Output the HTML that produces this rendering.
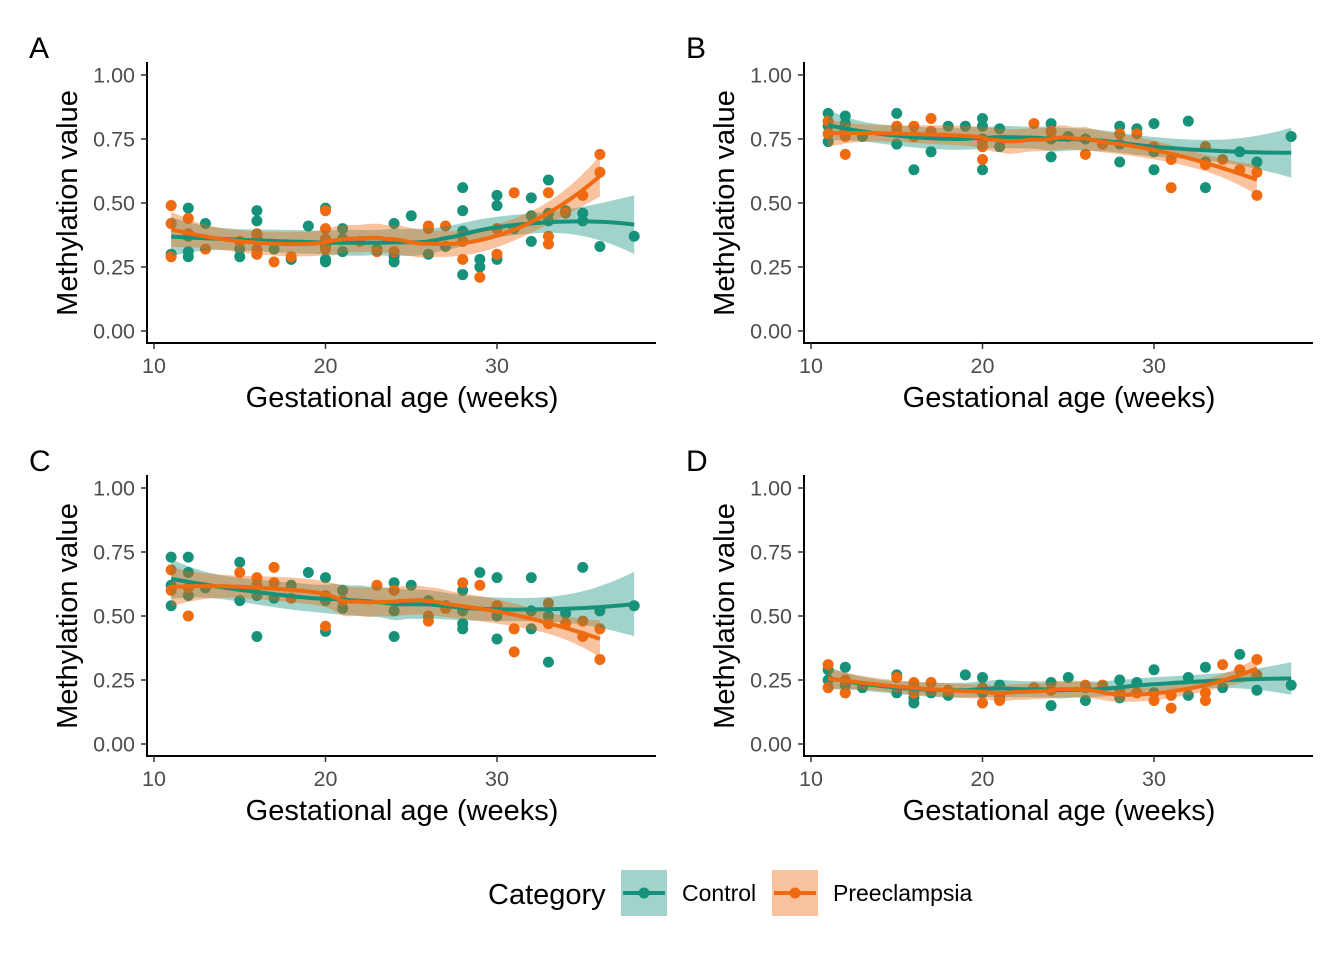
<!DOCTYPE html>
<html><head><meta charset="utf-8">
<style>
html,body{margin:0;padding:0;background:#fff;}
svg{display:block;font-family:"Liberation Sans",Arial,sans-serif;}
</style></head>
<body>
<svg id="chart" width="1344" height="960" viewBox="0 0 1344 960"></svg>
<script>
// ---- data (weeks, methylation) ----
const panelLabels = ["A","B","C","D"];
const yTicks = [0, 0.25, 0.5, 0.75, 1.0];
const yTickLabels = ["0.00","0.25","0.50","0.75","1.00"];
const xTicks = [10, 20, 30];
const ctrlA_x = [11,11,12,12,12,12,13,15,15,16,16,16,16,17,18,19,20,20,20,20,21,21,21,23,24,24,24,25,26,27,28,28,28,28,29,29,30,30,30,31,32,32,32,33,33,33,34,35,35,36,38];
const ctrlA_y = [0.42,0.30,0.48,0.29,0.31,0.37,0.42,0.29,0.32,0.47,0.43,0.30,0.36,0.32,0.28,0.41,0.48,0.27,0.28,0.33,0.40,0.36,0.31,0.32,0.42,0.27,0.29,0.45,0.30,0.33,0.56,0.47,0.39,0.22,0.28,0.25,0.53,0.49,0.28,0.40,0.52,0.35,0.45,0.59,0.43,0.46,0.47,0.46,0.43,0.33,0.37];
const peA_x = [11,11,11,12,12,13,15,16,16,16,17,18,20,20,20,20,22,23,24,26,26,27,28,28,29,30,30,31,33,33,33,34,35,36,36];
const peA_y = [0.49,0.42,0.29,0.44,0.38,0.32,0.35,0.38,0.32,0.30,0.27,0.29,0.47,0.40,0.36,0.32,0.35,0.31,0.31,0.41,0.40,0.41,0.28,0.35,0.21,0.30,0.40,0.54,0.54,0.37,0.34,0.46,0.53,0.69,0.62];
const ctrlB_x = [11,11,11,12,12,12,13,15,15,16,16,17,18,19,20,20,20,20,21,21,24,24,24,25,26,27,28,28,28,29,30,30,30,32,33,33,35,36,38];
const ctrlB_y = [0.85,0.80,0.74,0.84,0.81,0.78,0.76,0.85,0.73,0.76,0.63,0.70,0.80,0.80,0.83,0.80,0.63,0.75,0.79,0.72,0.81,0.68,0.75,0.76,0.75,0.73,0.80,0.66,0.73,0.79,0.81,0.63,0.70,0.82,0.56,0.66,0.70,0.66,0.76];
const peB_x = [11,11,12,12,12,15,15,16,16,17,17,20,20,20,23,24,26,27,28,29,30,31,31,33,33,34,35,36,36];
const peB_y = [0.82,0.77,0.78,0.69,0.76,0.80,0.78,0.80,0.76,0.83,0.78,0.72,0.67,0.74,0.81,0.78,0.69,0.73,0.77,0.77,0.72,0.67,0.56,0.72,0.65,0.67,0.63,0.62,0.53];
const ctrlC_x = [11,11,11,12,12,12,13,15,15,16,16,16,17,18,19,20,20,20,21,21,24,24,24,25,26,27,28,28,28,28,29,30,30,30,32,32,32,33,33,34,35,36,38];
const ctrlC_y = [0.73,0.54,0.62,0.73,0.67,0.58,0.61,0.71,0.56,0.62,0.42,0.58,0.57,0.62,0.67,0.65,0.44,0.56,0.53,0.60,0.63,0.42,0.52,0.62,0.56,0.54,0.60,0.47,0.45,0.52,0.67,0.65,0.50,0.41,0.65,0.45,0.52,0.32,0.50,0.51,0.69,0.52,0.54];
const peC_x = [11,11,12,12,15,16,16,17,17,18,20,20,21,23,24,26,26,27,28,29,30,31,31,33,33,34,35,35,36,36];
const peC_y = [0.68,0.60,0.61,0.50,0.67,0.65,0.62,0.69,0.63,0.57,0.46,0.58,0.56,0.62,0.60,0.48,0.50,0.53,0.63,0.62,0.54,0.45,0.36,0.55,0.47,0.47,0.48,0.42,0.33,0.45];
const ctrlD_x = [11,11,12,12,12,13,15,15,16,16,16,17,18,19,20,20,21,21,24,24,25,26,26,28,28,29,30,30,32,32,33,34,35,36,38];
const ctrlD_y = [0.29,0.25,0.30,0.23,0.20,0.22,0.27,0.20,0.16,0.18,0.22,0.20,0.19,0.27,0.26,0.20,0.23,0.18,0.24,0.15,0.26,0.17,0.22,0.25,0.18,0.24,0.29,0.20,0.26,0.19,0.30,0.22,0.35,0.21,0.23];
const peD_x = [11,11,12,12,15,16,16,17,18,20,20,21,23,24,26,27,28,29,30,31,31,33,33,34,35,36,36];
const peD_y = [0.31,0.22,0.25,0.20,0.26,0.24,0.20,0.24,0.21,0.22,0.16,0.17,0.22,0.21,0.23,0.23,0.21,0.20,0.17,0.19,0.14,0.20,0.17,0.31,0.29,0.33,0.27];

const GREEN = "#17927a", ORANGE = "#f06a10";
const NS = "http://www.w3.org/2000/svg";
const svg = document.getElementById("chart");
function mk(tag, attrs, parent){ const e=document.createElementNS(NS,tag); for(const k in attrs) e.setAttribute(k,attrs[k]); (parent||svg).appendChild(e); return e; }

function solve3(A,b){
  const M=A.map((r,i)=>[...r,b[i]]);
  for(let i=0;i<3;i++){ let p=i; for(let j=i+1;j<3;j++) if(Math.abs(M[j][i])>Math.abs(M[p][i])) p=j; [M[i],M[p]]=[M[p],M[i]];
    for(let j=i+1;j<3;j++){ const f=M[j][i]/M[i][i]; for(let k=i;k<4;k++) M[j][k]-=f*M[i][k]; } }
  const x=[0,0,0]; for(let i=2;i>=0;i--){ let s=M[i][3]; for(let k=i+1;k<3;k++) s-=M[i][k]*x[k]; x[i]=s/M[i][i]; } return x;
}
function lvec(xs,x0){
  const n=xs.length, q=Math.floor(0.75*n);
  const d=xs.map(x=>Math.abs(x-x0)); const h=[...d].sort((a,b)=>a-b)[q-1]*1.0001+1e-9;
  const w=d.map(v=>{const u=v/h; return u<1?Math.pow(1-u*u*u,3):0;});
  const A=[[0,0,0],[0,0,0],[0,0,0]];
  for(let i=0;i<n;i++){const t=xs[i]-x0, r=[1,t,t*t]; for(let a=0;a<3;a++) for(let b=0;b<3;b++) A[a][b]+=w[i]*r[a]*r[b];}
  const c=solve3(A.map(r=>r.slice()),[1,0,0]);
  return xs.map((x,i)=>{const t=x-x0; return w[i]*(c[0]+c[1]*t+c[2]*t*t);});
}
function loess(xs,ys){
  const n=xs.length; let rss=0, tr=0;
  xs.forEach((x,i)=>{const l=lvec(xs,x); let f=0; l.forEach((v,j)=>f+=v*ys[j]); rss+=(ys[i]-f)**2; tr+=l[i];});
  const sigma=Math.sqrt(rss/(n-tr*1.2));
  const lo=Math.min(...xs), hi=Math.max(...xs), out=[];
  for(let k=0;k<=80;k++){ const x0=lo+(hi-lo)*k/80; const l=lvec(xs,x0);
    let f=0,s=0; l.forEach((v,j)=>{f+=v*ys[j]; s+=v*v;}); out.push({x:x0,y:f,se:sigma*Math.sqrt(s)*2.03}); }
  return out;
}

const panels = [
  {lab:"A",dx:0,dy:0,c:[ctrlA_x,ctrlA_y],p:[peA_x,peA_y]},
  {lab:"B",dx:657,dy:0,c:[ctrlB_x,ctrlB_y],p:[peB_x,peB_y]},
  {lab:"C",dx:0,dy:413,c:[ctrlC_x,ctrlC_y],p:[peC_x,peC_y]},
  {lab:"D",dx:657,dy:413,c:[ctrlD_x,ctrlD_y],p:[peD_x,peD_y]}
];
panels.forEach((P,pi)=>{
  const g=mk("g",{});
  
  
  const X=v=>P.dx+154+(v-10)*17.15, Y=v=>P.dy+331-v*256;
  const t=mk("text",{x:P.dx+29,y:P.dy+58,"font-size":30,fill:"#000"},g); t.textContent=panelLabels[pi];
   
  const ya=mk("line",{x1:P.dx+147,y1:P.dy+62,x2:P.dx+147,y2:P.dy+344,stroke:"#000","stroke-width":2},g);
   
  const xa=mk("line",{x1:P.dx+146,y1:P.dy+343,x2:P.dx+656,y2:P.dy+343,stroke:"#000","stroke-width":2},g);
   
  yTicks.forEach((v,i)=>{
    mk("line",{x1:P.dx+141,x2:P.dx+147,y1:Y(v),y2:Y(v),stroke:"#333","stroke-width":1.5},g);
    const tl=mk("text",{x:P.dx+135,y:Y(v)+7.5,"font-size":21.5,fill:"#4d4d4d","text-anchor":"end"},g); tl.textContent=yTickLabels[i];
     
  });
  xTicks.forEach(v=>{
    mk("line",{x1:X(v),x2:X(v),y1:P.dy+343,y2:P.dy+349,stroke:"#333","stroke-width":1.5},g);
    const tl=mk("text",{x:X(v),y:P.dy+373,"font-size":21.5,fill:"#4d4d4d","text-anchor":"middle"},g); tl.textContent=v;
     
  });
  const yt=mk("text",{transform:`translate(${P.dx+77},${P.dy+203}) rotate(-90)`,"font-size":29,fill:"#000","text-anchor":"middle"},g);
  yt.textContent="Methylation value";  
  const xt=mk("text",{x:P.dx+402,y:P.dy+407,"font-size":29,fill:"#000","text-anchor":"middle"},g);
  xt.textContent="Gestational age (weeks)";  
  [[P.c,GREEN,"control"],[P.p,ORANGE,"preeclampsia"]].forEach(([d,col,nm])=>{
    d[0].forEach((x,i)=>{ const c=mk("circle",{cx:X(x),cy:Y(d[1][i]),r:5.5,fill:col},g);
        });
  });
  [[P.c,GREEN,"control"],[P.p,ORANGE,"preeclampsia"]].forEach(([d,col,nm])=>{
    const fit=loess(d[0],d[1]);
    const up=fit.map(f=>`${X(f.x).toFixed(1)},${Y(f.y+f.se).toFixed(1)}`), dn=fit.slice().reverse().map(f=>`${X(f.x).toFixed(1)},${Y(f.y-f.se).toFixed(1)}`);
    const band=mk("polygon",{points:up.concat(dn).join(" "),fill:col,"fill-opacity":0.4},g);
     
  });
  [[P.c,GREEN,"control"],[P.p,ORANGE,"preeclampsia"]].forEach(([d,col,nm])=>{
    const fit=loess(d[0],d[1]);
    const ln=mk("polyline",{points:fit.map(f=>`${X(f.x).toFixed(1)},${Y(f.y).toFixed(1)}`).join(" "),fill:"none",stroke:col,"stroke-width":4},g);
     
  });
});

const lg=mk("g",{});
 
const lt=mk("text",{x:488,y:904,"font-size":29,fill:"#000"},lg); lt.textContent="Category";
 
[[621,GREEN,"Control",682],[772,ORANGE,"Preeclampsia",833]].forEach(([x,col,txt,tx])=>{
  const e=mk("g",{},lg);
   
  mk("rect",{x:x,y:870,width:46,height:46,fill:col,"fill-opacity":0.4},e);
  mk("line",{x1:x+2,x2:x+44,y1:893,y2:893,stroke:col,"stroke-width":4},e);
  mk("circle",{cx:x+23,cy:893,r:5.5,fill:col},e);
  const t=mk("text",{x:tx,y:901,"font-size":23,fill:"#000"},e); t.textContent=txt;
});
</script>
</body></html>
